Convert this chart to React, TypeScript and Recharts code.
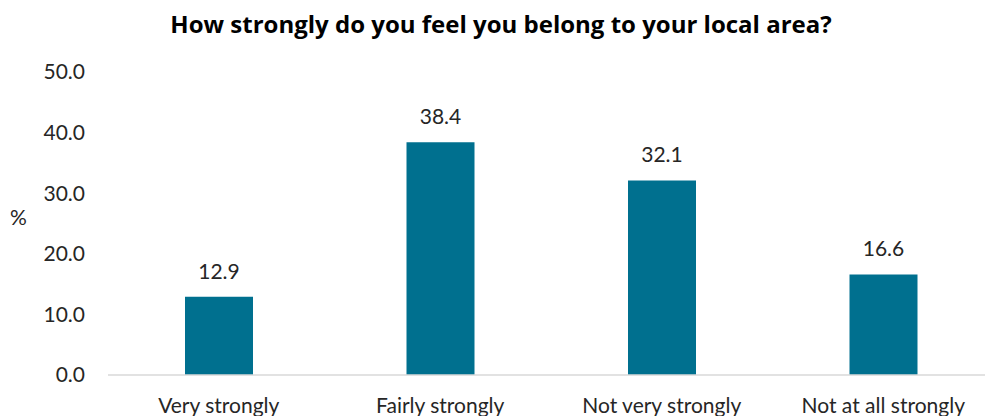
import { Bar, BarChart, LabelList, XAxis, YAxis } from "recharts";

const CATEGORIES = ["Very strongly", "Fairly strongly", "Not very strongly", "Not at all strongly"];
const VALUES = [12.9, 38.4, 32.1, 16.6];
const Y_TICKS = [0, 10, 20, 30, 40, 50];
const TITLE = "How strongly do you feel you belong to your local area?";

const FONT = "Lato, 'Open Sans', sans-serif";
const TEXT = "#262626";
const BAR = "#00708f";

const data = CATEGORIES.map((name, i) => ({ name, value: VALUES[i] }));

export default function App() {
  return (
    <div
      style={{
        position: "absolute",
        left: 0,
        top: 0,
        width: 985,
        height: 416,
        overflow: "hidden",
        background: "#fff",
        fontFamily: FONT,
      }}
    >
      {/* title sits as html over the svg; wider face to match the original's span */}
      <div
        style={{
          position: "absolute",
          left: 0,
          top: 7,
          width: 1002,
          textAlign: "center",
          fontSize: 24,
          fontWeight: 700,
          fontFamily: "'Open Sans', sans-serif",
          color: "#000",
          whiteSpace: "nowrap",
        }}
      >
        {TITLE}
      </div>
      <BarChart
        width={994}
        height={416}
        data={data}
        margin={{ top: 72, right: 0, bottom: 0, left: 0 }}
        barSize={68}
      >
        <XAxis
          dataKey="name"
          height={41}
          tickSize={0}
          tickMargin={23}
          axisLine={{ stroke: "#d9d9d9", strokeWidth: 1.5 }}
          tick={{ fill: TEXT, fontSize: 21, fontFamily: FONT }}
          interval={0}
        />
        <YAxis
          width={108}
          domain={[0, 50]}
          ticks={Y_TICKS}
          axisLine={false}
          tickSize={0}
          tickMargin={23}
          tickFormatter={(v: number) => v.toFixed(1)}
          tick={{ fill: TEXT, fontSize: 21, fontFamily: FONT }}
          label={{
            value: "%",
            position: "insideLeft",
            offset: 10,
            dy: -6,
            fill: TEXT,
            fontSize: 21,
            fontFamily: FONT,
          }}
        />
        <Bar dataKey="value" fill={BAR} isAnimationActive={false}>
          <LabelList
            dataKey="value"
            position="top"
            offset={18}
            formatter={(v: number) => v.toFixed(1)}
            fill={TEXT}
            fontSize={21}
            fontFamily={FONT}
          />
        </Bar>
      </BarChart>
    </div>
  );
}
